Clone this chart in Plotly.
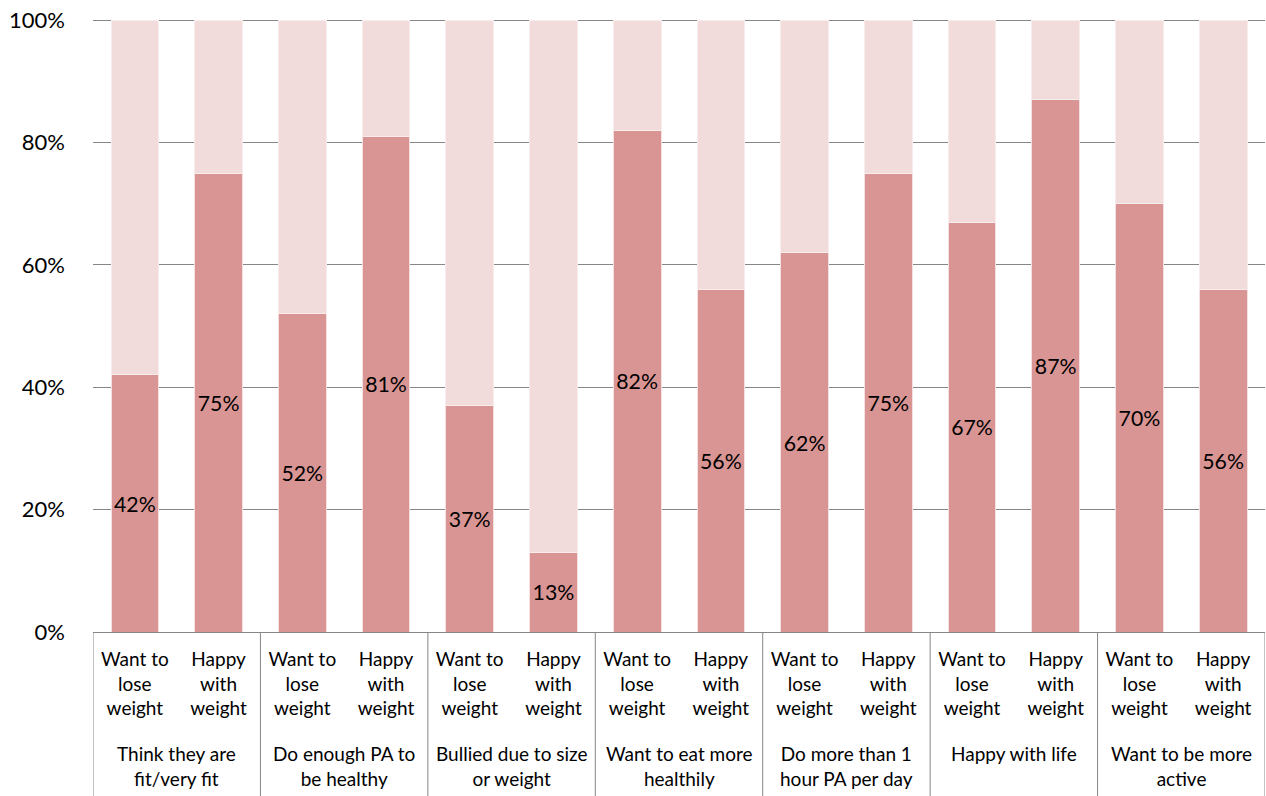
import plotly.graph_objects as go

groups = ["Think they are<br>fit/very fit", "Do enough PA to<br>be healthy", "Bullied due to size<br>or weight",
          "Want to eat more<br>healthily", "Do more than 1<br>hour PA per day", "Happy with life",
          "Want to be more<br>active"]
subcats = ["Want to<br>lose<br>weight", "Happy<br>with<br>weight"]
yes_vals = [42, 75, 52, 81, 37, 13, 82, 56, 62, 75, 67, 87, 70, 56]
rest_vals = [58, 25, 48, 19, 63, 87, 18, 44, 38, 25, 33, 13, 30, 44]
ytick_vals = [0, 20, 40, 60, 80, 100]
ytick_text = ["0%", "20%", "40%", "60%", "80%", "100%"]

FONT = "Lato"
DARK = "#D99594"
LIGHT = "#F2DCDB"
GRID = "#868686"

n = len(yes_vals)
xs = list(range(n))
ticktext = [subcats[i % 2] for i in xs]

fig = go.Figure()
fig.add_trace(go.Bar(
    x=xs, y=yes_vals, marker=dict(color=DARK, line=dict(color="#F4E0E0", width=1)),
    text=[f"{v}%" for v in yes_vals], textposition="inside", insidetextanchor="middle",
    textfont=dict(family=FONT, size=22, color="black"), textangle=0, width=0.57,
    hoverinfo="skip", showlegend=False))
fig.add_trace(go.Bar(
    x=xs, y=rest_vals, marker=dict(color=LIGHT, line=dict(color="#F8ECEC", width=1)),
    width=0.57, hoverinfo="skip", showlegend=False))

shapes = []
for k in range(len(groups) + 1):
    xb = -0.5 + 2 * k
    shapes.append(dict(type="line", xref="x", yref="paper", x0=xb, x1=xb, y0=0, y1=-0.3,
                       line=dict(color=GRID, width=1)))
annotations = []
for g, name in enumerate(groups):
    annotations.append(dict(x=2 * g + 0.5, y=-0.175, xref="x", yref="paper", text=name,
                            showarrow=False, yanchor="top", xanchor="center",
                            font=dict(family=FONT, size=19, color="black")))

fig.update_layout(
    barmode="stack", width=1266, height=796,
    margin=dict(l=93, r=1, t=17, b=164),
    plot_bgcolor="white", paper_bgcolor="white",
    xaxis=dict(range=[-0.5, 13.5], tickvals=xs, ticktext=ticktext, showgrid=False,
               showline=True, linecolor=GRID, linewidth=1, ticks="",
               ticklabelstandoff=10, automargin=False,
               tickfont=dict(family=FONT, size=19, color="black"), zeroline=False),
    yaxis=dict(range=[0, 100.5], tickvals=ytick_vals, ticktext=ytick_text, showgrid=True,
               gridcolor=GRID, gridwidth=1, zeroline=False, showline=False, ticks="",
               ticklabelstandoff=27, ticklabeloverflow="allow", automargin=False,
               tickfont=dict(family=FONT, size=22, color="black")),
    shapes=shapes, annotations=annotations,
)
fig.write_html("out.html", config={"displayModeBar": False},
               post_script="document.body.style.margin='0';")
